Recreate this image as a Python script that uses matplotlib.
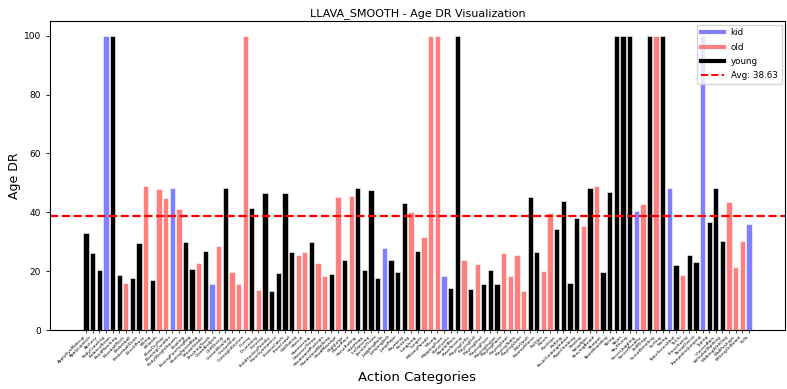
import matplotlib
matplotlib.use("Agg")
import matplotlib.pyplot as plt
from matplotlib.lines import Line2D

categories = [
    "ApplyEyeMakeup", "ApplyLipstick", "Archery", "BabyCrawling", "BalanceBeam",
    "BandMarching", "BaseballPitch", "Basketball", "BasketballDunk", "BenchPress",
    "Biking", "Billiards", "BlowDryHair", "BlowingCandles", "BodyWeightSquats",
    "Bowling", "BoxingPunchingBag", "BoxingSpeedBag", "BreastStroke", "BrushingTeeth",
    "CleanAndJerk", "CliffDiving", "CricketBowling", "CricketShot", "CuttingInKitchen",
    "Diving", "Drumming", "Fencing", "FieldHockeyPenalty", "FloorGymnastics",
    "FrisbeeCatch", "FrontCrawl", "GolfSwing", "Haircut", "Hammering",
    "HammerThrow", "HandstandPushups", "HandstandWalking", "HeadMassage", "HighJump",
    "HorseRace", "HorseRiding", "HulaHoop", "IceDancing", "JavelinThrow",
    "JugglingBalls", "JumpingJack", "JumpRope", "Kayaking", "Knitting",
    "LongJump", "Lunges", "MilitaryParade", "Mixing", "MoppingFloor",
    "Nunchucks", "ParallelBars", "PizzaTossing", "PlayingCello", "PlayingDaf",
    "PlayingDhol", "PlayingFlute", "PlayingGuitar", "PlayingPiano", "PlayingSitar",
    "PlayingTabla", "PlayingViolin", "PoleVault", "PommelHorse", "PullUps",
    "Punch", "PushUps", "Rafting", "RockClimbingIndoor", "RopeClimbing",
    "Rowing", "SalsaSpin", "ShavingBeard", "Shotput", "SkateBoarding",
    "Skiing", "Skijet", "SkyDiving", "SoccerJuggling", "SoccerPenalty",
    "StillRings", "SumoWrestling", "Surfing", "Swing", "TableTennisShot",
    "TaiChi", "TennisSwing", "ThrowDiscus", "TrampolineJumping", "Typing",
    "UnevenBars", "VolleyballSpiking", "WalkingWithDog", "WallPushups", "WritingOnBoard",
    "YoYo",
]

age_dr = [
    32.9, 26.1, 20.3, 100.0, 100.0, 18.6, 16.0, 17.8, 29.5, 48.9,
    16.9, 48.0, 44.8, 48.2, 41.2, 29.9, 20.7, 22.8, 26.9, 15.5,
    28.6, 48.2, 19.7, 15.8, 100.0, 41.4, 13.5, 46.5, 13.3, 19.3,
    46.4, 26.5, 25.4, 26.5, 29.9, 22.9, 18.3, 18.9, 45.2, 23.8,
    45.7, 48.2, 20.4, 47.6, 17.8, 27.7, 23.8, 19.7, 43.1, 40.2,
    26.9, 31.5, 100.0, 100.0, 18.4, 14.2, 100.0, 23.7, 13.9, 22.3,
    15.8, 20.4, 15.8, 26.1, 18.4, 25.6, 13.3, 45.2, 26.5, 20.1,
    39.8, 34.4, 43.7, 16.0, 38.2, 35.3, 48.2, 48.9, 19.6, 46.8,
    100.0, 100.0, 100.0, 40.5, 42.9, 100.0, 100.0, 100.0, 48.2, 22.0,
    18.6, 25.4, 23.1, 100.0, 36.8, 48.2, 30.2, 43.4, 21.3, 30.4,
    36.1,
]

age_group = (
    "y y y k y y o y y o "
    "y o o k o y y o y k "
    "o y o o o y o y y y "
    "y y o o y o o y o y "
    "o y y y y k y y y o "
    "y o o o k y y o y o "
    "y y y o o o o y y o "
    "o y y y y o y o y y "
    "y y y k o y o y k y "
    "o y y k y y y o o o "
    "k"
).split()

avg_dr = 38.63

group_names = {"k": "kid", "o": "old", "y": "young"}
group_colors = {"k": "#7f7fff", "o": "#ff7f7f", "y": "black"}

fig = plt.figure(figsize=(7.87, 3.89), dpi=100)
ax = fig.add_axes([50 / 787, 1 - 330 / 389, 735 / 787, 309 / 389])

x = list(range(len(categories)))
ax.bar(x, age_dr, width=0.8,
       color=[group_colors[g] for g in age_group],
       edgecolor="white", linewidth=0.4)

ax.axhline(avg_dr, color="red", linestyle="--", linewidth=1.6)

ax.set_xticks(x)
ax.set_xticklabels(categories, rotation=45, ha="right", fontsize=3.2)
ax.tick_params(axis="x", length=2.5, width=0.5, pad=1)
ax.tick_params(axis="y", labelsize=6.5, length=3, width=0.6)

ax.set_title("LLAVA_SMOOTH - Age DR Visualization", fontsize=8, pad=3.5)
ax.set_xlabel("Action Categories", fontsize=9.5, labelpad=2)
ax.set_ylabel("Age DR", fontsize=9, labelpad=2)

handles = [
    Line2D([0], [0], color=group_colors["k"], lw=3),
    Line2D([0], [0], color=group_colors["o"], lw=3),
    Line2D([0], [0], color=group_colors["y"], lw=3),
    Line2D([0], [0], color="red", lw=1.4, linestyle="--"),
]
labels = [group_names["k"], group_names["o"], group_names["y"], f"Avg: {avg_dr:.2f}"]
ax.legend(handles, labels, loc="upper right", fontsize=6.3, handlelength=2.6,
          borderpad=0.45, labelspacing=0.6, borderaxespad=0.4)

fig.savefig("out.png", dpi=100)
